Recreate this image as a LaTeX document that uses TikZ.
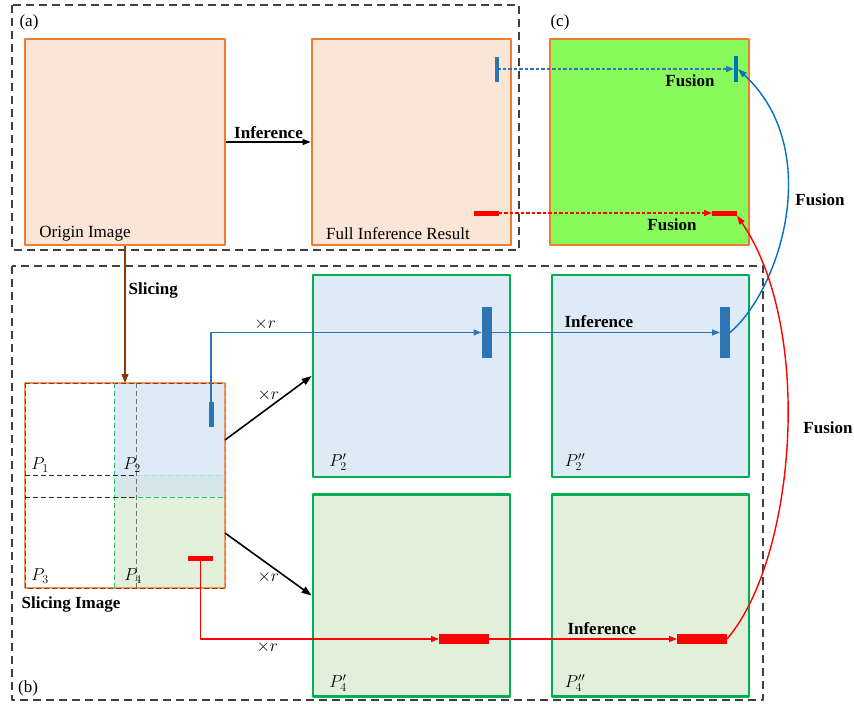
\documentclass[tikz,border=0pt]{standalone}
\usepackage{fontspec}
\setmainfont{Liberation Serif}
\usepackage{tikz}
\usetikzlibrary{arrows.meta,calc}
\definecolor{imgedge}{HTML}{ED7D31}
\definecolor{imgfill}{HTML}{FBE5D6}
\definecolor{fusefill}{HTML}{88FA5A}
\definecolor{patchedge}{HTML}{00B050}
\definecolor{patchblue}{HTML}{DEEBF7}
\definecolor{patchgreen}{HTML}{E2EFDA}
\definecolor{patchmix}{HTML}{D6E5E6}
\definecolor{objblue}{HTML}{2E75B6}
\definecolor{arcblue}{HTML}{0070C0}
\definecolor{objred}{HTML}{FF0000}
\definecolor{slicebrown}{HTML}{843C0C}

\begin{document}
\begin{tikzpicture}[x=1pt,y=-1pt,>=Triangle,line join=round,
  font=\fontsize{17}{20}\selectfont,
  frame/.style={draw=black!75,line width=1.3pt,dash pattern=on 8pt off 5pt},
  imgbox/.style={draw=imgedge,line width=2.8pt,fill=imgfill,minimum width=200pt,minimum height=206pt,inner sep=0pt},
  fusebox/.style={imgbox,fill=fusefill,minimum width=199pt},
  patchbox/.style={draw=patchedge,line width=2.8pt,minimum width=197pt,minimum height=202pt,inner sep=0pt},
  obj/.style={rectangle,inner sep=0pt,outer sep=0pt},
  lbl/.style={inner sep=1pt,text=black},
  bl/.style={inner sep=1pt,text=black,font=\fontsize{17}{20}\selectfont\bfseries},
  bluewire/.style={->,objblue,line width=1.4pt,>={Triangle[length=8pt,width=6pt]}},
  redwire/.style={->,objred,line width=1.4pt,>={Triangle[length=8pt,width=6pt]}},
  dotwire/.style={->,line width=1.5pt,dash pattern=on 3.5pt off 2pt,>={Triangle[length=8pt,width=6pt]}},
  scaled/.style={->,line width=1.6pt,>={Triangle[length=10pt,width=7pt]}}]
  \useasboundingbox (0,0) rectangle (854,704);
  \draw[frame] (12,5) rectangle (519,250);
  \draw[frame] (12,266) rectangle (763,700);
  \node[lbl] (la) at (29,22) {(a)};
  \node[lbl] (lc) at (560,22) {(c)};
  \node[lbl] (lb) at (28,688) {(b)};
  \node[imgbox] (orig) at (125,142) {};
  \node[imgbox,minimum width=199pt] (full) at (411.5,142) {};
  \node[fusebox] (fused) at (649.5,142) {};
  \node[lbl] (origtext) at (85,234) {Origin Image};
  \node[lbl] (fulltext) at (398,234) {Full Inference Result};
  \node[patchbox,fill=patchblue] (p2a) at (411.5,376) {};
  \node[patchbox,fill=patchblue] (p2b) at (650.5,376) {};
  \node[patchbox,fill=patchgreen] (p4a) at (411.5,595.5) {};
  \node[patchbox,fill=patchgreen] (p4b) at (650.5,595.5) {};
  \node[lbl] (p2at) at (338,462) {$P_2'$};
  \node[lbl] (p2bt) at (575,462) {$P_2''$};
  \node[lbl] (p4at) at (338,683) {$P_4'$};
  \node[lbl] (p4bt) at (575,683) {$P_4''$};
  \node[obj,fill=white,minimum width=200pt,minimum height=205pt] (slice) at (125,485.5) {};
  \fill[patchblue] (114,383) rectangle (225,475);
  \fill[patchmix] (114,475) rectangle (225,497);
  \fill[patchgreen] (114,497) rectangle (225,588);
  \draw[imgedge!80,line width=2.4pt] (25,383) rectangle (225,588);
  \draw[slicebrown,line width=0.9pt,dash pattern=on 5pt off 3pt] (25,383) -- (225,383) (25,383) -- (25,588) -- (225,588);
  \draw[patchedge!80,line width=0.9pt,dash pattern=on 5pt off 3pt] (114,383) -- (114,588) (114,497) -- (225,497) (225,383) -- (225,588);
  \draw[cyan!40,line width=0.8pt,dash pattern=on 5pt off 3pt] (136,475) -- (225,475);
  \draw[black!85,line width=0.8pt,dash pattern=on 5pt off 3pt] (25,475) -- (136,475) (25,497) -- (136,497);
  \draw[black!55,line width=0.8pt,dash pattern=on 5pt off 3pt] (136,383) -- (136,588);
  \node[lbl] (p1t) at (40,465) {$P_1$};
  \node[lbl] (p2t) at (132,465) {$P_2$};
  \node[lbl] (p3t) at (40,576) {$P_3$};
  \node[lbl] (p4t) at (133,576) {$P_4$};
  \node[bl] (slicetext) at (71,604) {Slicing Image};
  \node[obj,fill=objblue,minimum width=4pt,minimum height=25pt] (fb) at (497,69) {};
  \node[obj,fill=arcblue,minimum width=4pt,minimum height=26pt] (cb) at (736,69) {};
  \node[obj,fill=objred,minimum width=25pt,minimum height=5pt] (fr) at (486,213) {};
  \node[obj,fill=objred,minimum width=25pt,minimum height=5pt] (cr) at (724.5,213) {};
  \node[obj,fill=objblue,minimum width=5pt,minimum height=25pt] (sb) at (211,414) {};
  \node[obj,fill=objred,minimum width=25pt,minimum height=5pt] (sr) at (200.5,558.5) {};
  \node[obj,fill=objblue,minimum width=10pt,minimum height=51pt] (pb1) at (486.5,332.5) {};
  \node[obj,fill=objblue,minimum width=10pt,minimum height=51pt] (pb2) at (725,332.5) {};
  \node[obj,fill=objred,minimum width=50pt,minimum height=10pt] (pr1) at (464,639) {};
  \node[obj,fill=objred,minimum width=50pt,minimum height=10pt] (pr2) at (702,639) {};
  \draw[->,line width=1.2pt,>={Triangle[length=8pt,width=6pt]}] (orig.east) -- (full.west) node[bl,midway,above=2pt] (inf0) {Inference};
  \draw[dotwire,objblue] (fb.center) -- (cb.west);
  \draw[dotwire,objred] (fr.east) -- (cr.west);
  \node[bl] (fus1) at (690,81) {Fusion};
  \node[bl] (fus2) at (672,225) {Fusion};
  \draw[->,slicebrown,line width=1.4pt,>={Triangle[length=9pt,width=7pt]}] (orig.south) -- (slice.north) node[bl,pos=0.32,right=2pt] (slicing) {Slicing};
  \draw[bluewire] (sb.north) |- (pb1.west) node[lbl,pos=0.6,above=1pt] (xr1) {$\times r$};
  \draw[bluewire] (pb1.east) -- (pb2.west) node[bl,pos=0.47,above=3pt] (inf1) {Inference};
  \draw[redwire] (sr.south) |- (pr1.west) node[lbl,pos=0.64,below=1pt] (xr4) {$\times r$};
  \draw[redwire] (pr1.east) -- (pr2.west) node[bl,pos=0.6,above=3pt] (inf2) {Inference};
  \draw[scaled] ([yshift=45.5pt]slice.east) -- (p2a.west) node[lbl,midway,above=5pt] (xr2) {$\times r$};
  \draw[scaled] ([yshift=-47.5pt]slice.east) -- (p4a.west) node[lbl,midway,below=5pt] (xr3) {$\times r$};
  \draw[->,arcblue,line width=1.4pt,>={Triangle[length=9pt,width=6pt]}] (pb2.east) .. controls (780,290) and (825,150) .. (cb.east);
  \draw[->,objred,line width=1.4pt,>={Triangle[length=9pt,width=6pt]}] (pr2.east) .. controls (795,560) and (815,330) .. (cr.south east);
  \node[bl] (fus3) at (820,200) {Fusion};
  \node[bl] (fus4) at (828,428) {Fusion};
\end{tikzpicture}
\end{document}
